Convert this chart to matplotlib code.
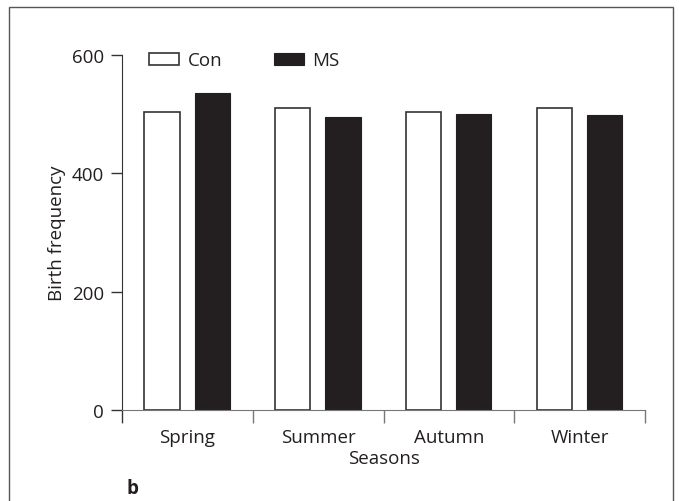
import numpy as np
import matplotlib
matplotlib.use('Agg')
import matplotlib.pyplot as plt
from matplotlib.patches import Rectangle

plt.rcParams['font.family'] = ['Open Sans', 'DejaVu Sans']

# data
seasons = ['Spring', 'Summer', 'Autumn', 'Winter']
con_values = [504, 511, 503, 511]
ms_values = [536, 496, 501, 498]

ink = '#231f20'
fs = 13.5

fig = plt.figure(figsize=(6.79, 5.02), dpi=100)
ax = fig.add_axes([0.1797, 0.1813, 0.7703, 0.7071])

x = np.arange(len(seasons))
bw = 0.27
ax.bar(x - 0.195, con_values, bw, color='white', edgecolor='#333333', linewidth=1.2, label='Con')
ax.bar(x + 0.19, ms_values, bw, color=ink, edgecolor=ink, linewidth=0.8, label='MS')

ax.set_xlim(-0.5, 3.5)
ax.set_ylim(0, 600)
ax.set_yticks([0, 200, 400, 600])

# group boundaries get the tick marks, names sit between them
ax.set_xticks(np.arange(-0.5, 4, 1))
ax.set_xticklabels([])
ax.set_xticks(x, minor=True)
ax.set_xticklabels(seasons, minor=True)
ax.tick_params(axis='x', which='major', direction='out', length=9, width=1, color='#777777')
ax.tick_params(axis='x', which='minor', length=0, pad=13, labelsize=fs, labelcolor=ink)
ax.tick_params(axis='y', direction='out', length=8, width=1, color='#333333', pad=5,
               labelsize=fs, labelcolor=ink)

for side in ['top', 'right']:
    ax.spines[side].set_visible(False)
ax.spines['left'].set_color('#333333')
ax.spines['bottom'].set_color('#777777')
ax.spines['left'].set_bounds(-20, 600)

ax.set_xlabel('Seasons', fontsize=fs, color=ink, labelpad=2)
ax.set_ylabel('Birth frequency', fontsize=fs, color=ink, labelpad=4)

leg = ax.legend(loc='upper left', bbox_to_anchor=(0.02, 1.058), ncol=2, frameon=False,
                fontsize=fs, handlelength=1.6, handleheight=0.6, columnspacing=2.75,
                handletextpad=0.43)
for t in leg.get_texts():
    t.set_color(ink)

fig.text(126 / 679, 1 - 494 / 502, 'b', fontsize=fs, fontweight='bold', color=ink,
         va='baseline')

# panel frame, open at the bottom of the picture
fig.patches.append(Rectangle((9 / 679, -0.05), 664 / 679, 1.05 - 8 / 502,
                             transform=fig.transFigure, fill=False,
                             edgecolor='#555555', linewidth=1.0))

fig.savefig('out.png', dpi=100)
